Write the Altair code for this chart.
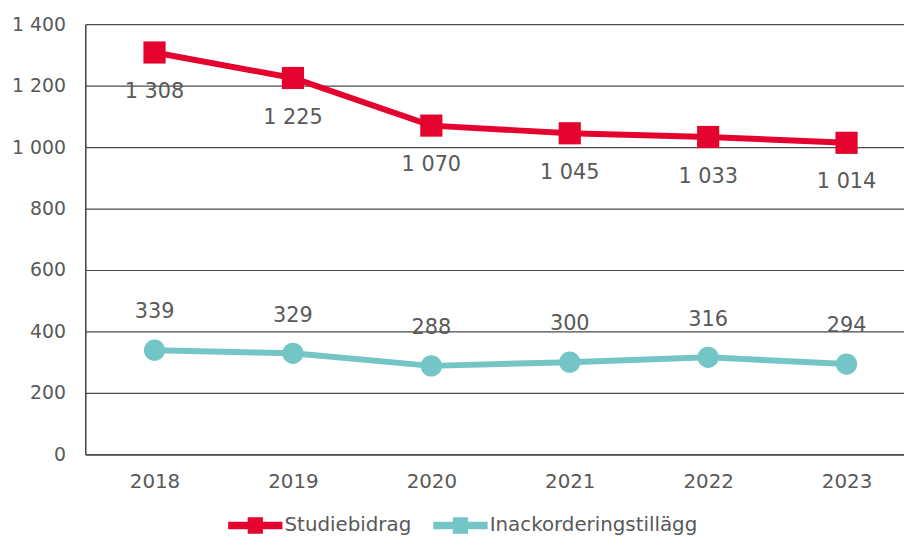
import altair as alt
import pandas as pd

years = [2018, 2019, 2020, 2021, 2022, 2023]
studiebidrag = [1308, 1225, 1070, 1045, 1033, 1014]
inackordering = [339, 329, 288, 300, 316, 294]
series_names = ["Studiebidrag", "Inackorderingstillägg"]
colors = ["#E4032E", "#74C5C6"]

rows = []
for name, vals in zip(series_names, [studiebidrag, inackordering]):
    for y, v in zip(years, vals):
        rows.append({"year": y, "value": v, "series": name,
                     "label": f"{v:,}".replace(",", " ")})
df = pd.DataFrame(rows)

FONT = "DejaVu Sans"
TXT = "#595959"

legend_path = "M-1,-0.14H1V0.14H-1Z M-0.28,-0.3H0.28V0.3H-0.28Z"

color = alt.Color(
    "series:N",
    scale=alt.Scale(domain=series_names, range=colors),
    legend=alt.Legend(
        title=None, orient="none", direction="horizontal",
        legendX=144, legendY=478, padding=0,
        symbolType=legend_path, symbolSize=3000, symbolStrokeWidth=0,
        symbolOpacity=1, labelFontSize=20, labelFont=FONT, labelColor=TXT,
        labelOffset=2, columnPadding=22, labelLimit=400,
    ),
)

x = alt.X("year:Q", scale=alt.Scale(domain=[2017.5, 2023.415], nice=False, zero=False),
          axis=alt.Axis(values=years, format="d", title=None, grid=False, ticks=False,
                        labelFontSize=20, labelFont=FONT, labelColor=TXT, labelPadding=17,
                        domainColor="#404040", domainWidth=1.5))
y = alt.Y("value:Q", scale=alt.Scale(domain=[0, 1400], nice=False),
          axis=alt.Axis(values=[0, 200, 400, 600, 800, 1000, 1200, 1400], title=None,
                        ticks=False, grid=True, gridColor="#4a4a4a", gridWidth=1.2,
                        domainColor="#404040", domainWidth=1.5,
                        labelFontSize=19, labelFont=FONT, labelColor=TXT, labelPadding=20,
                        labelExpr="replace(format(datum.value, ','), ',', ' ')"))

base = alt.Chart(df)
red = base.transform_filter(alt.datum.series == "Studiebidrag")
teal = base.transform_filter(alt.datum.series == "Inackorderingstillägg")

lines = base.mark_line(strokeWidth=6).encode(x=x, y=y, color=color)
points_red = red.mark_point(filled=True, opacity=1, strokeWidth=0, shape="square", size=500).encode(
    x=x, y=y, color=color)
points_teal = teal.mark_point(filled=True, opacity=1, strokeWidth=0, shape="circle", size=460).encode(
    x=x, y=y, color=color)
labels_red = red.mark_text(dy=40, fontSize=21, font=FONT, color=TXT).encode(x=x, y=y, text="label:N")
labels_teal = teal.mark_text(dy=-38, fontSize=21, font=FONT, color=TXT).encode(x=x, y=y, text="label:N")

chart = alt.layer(lines, points_red, points_teal, labels_red, labels_teal).properties(
    width=826, height=434,
    autosize=alt.AutoSizeParams(type="none"),
    padding={"left": 78, "top": 14, "right": 0, "bottom": 81},
).configure_view(strokeWidth=0)

chart.save("out.html", embed_options={"renderer": "svg", "actions": False})
